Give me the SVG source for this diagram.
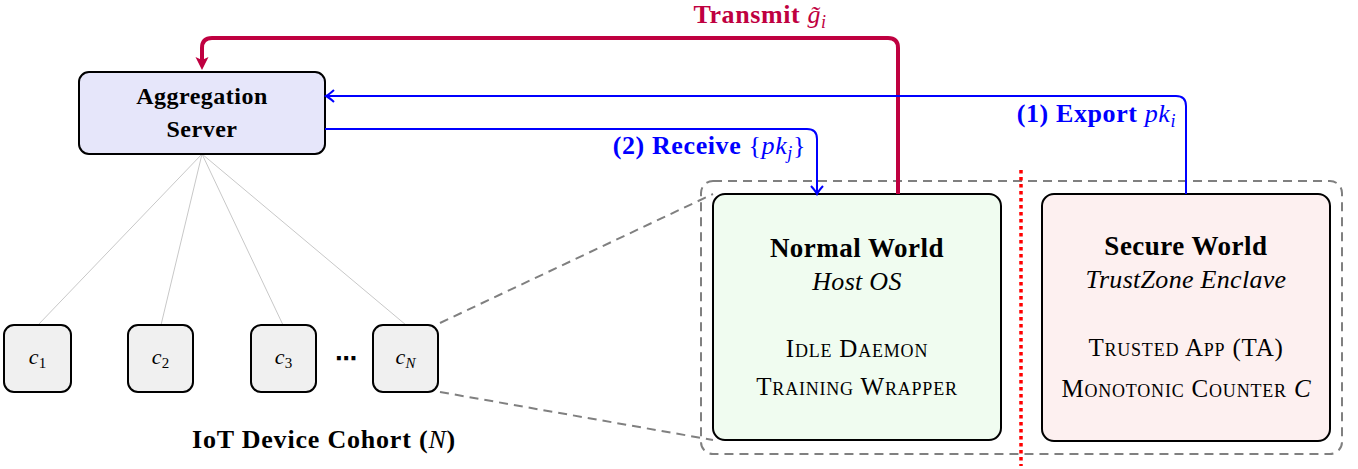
<svg xmlns="http://www.w3.org/2000/svg" width="1358" height="469" viewBox="0 0 1358 469">
<style>
text{font-family:"Liberation Serif","Times New Roman",serif;fill:#000}
.b{font-weight:bold}
.i{font-style:italic}
.sc{font-variant:small-caps;letter-spacing:0.8px}
.box{stroke:#000;stroke-width:2}
.cl{fill:#f0f0f0;stroke:#000;stroke-width:2}
.tree{stroke:#c8c8c8;stroke-width:1;fill:none}
.proj{stroke:#808080;stroke-width:2;stroke-dasharray:9 6;fill:none}
.blue{stroke:#0000ff;stroke-width:2;fill:none}
.purple{stroke:#bf0040;stroke-width:4;fill:none}
.title{font-weight:bold;font-size:27px;letter-spacing:0.5px}
.lbl{font-size:26px;letter-spacing:0.6px}
</style>
<defs>
<marker id="ap" markerUnits="userSpaceOnUse" orient="auto" refX="0" refY="0" viewBox="-8 -8 16 16" markerWidth="16" markerHeight="16" overflow="visible">
<path d="M7,0 L-6,-6.5 L-3,0 L-6,6.5 Z" fill="#bf0040"/>
</marker>
<marker id="ab" markerUnits="userSpaceOnUse" orient="auto" refX="0" refY="0" viewBox="-10 -8 14 16" markerWidth="14" markerHeight="16" overflow="visible">
<path d="M-7,-6 Q-2,-1.5 1,0 Q-2,1.5 -7,6" fill="none" stroke="#0000ff" stroke-width="2"/>
</marker>
</defs>

<g id="tree-lines">
<line class="tree" x1="202" y1="154" x2="38" y2="325"/>
<line class="tree" x1="202" y1="154" x2="161" y2="325"/>
<line class="tree" x1="202" y1="154" x2="283" y2="325"/>
<line class="tree" x1="202" y1="154" x2="406" y2="325"/>
<line class="proj" x1="440" y1="323" x2="713" y2="194"/>
<line class="proj" x1="440" y1="392" x2="713" y2="440"/>
</g>

<g id="device-frame">
<rect x="701" y="181" width="641" height="273" rx="12" class="proj"/>
<line x1="1021" y1="170" x2="1021" y2="466" stroke="#ff0000" stroke-width="3.5" stroke-dasharray="3.5 3.5"/>
</g>

<g id="server">
<rect x="79" y="72" width="246" height="82" rx="10" fill="#e6e6fa" class="box"/>
<text x="202" y="104" text-anchor="middle" class="b" font-size="24" letter-spacing="0.5">Aggregation</text>
<text x="202" y="137" text-anchor="middle" class="b" font-size="24" letter-spacing="0.5">Server</text>
</g>

<g id="client-1">
<rect x="4" y="325" width="67" height="67" rx="10" class="cl"/>
<text x="37.5" y="364" text-anchor="middle" font-size="22"><tspan class="i">c</tspan><tspan font-size="15" dy="4">1</tspan></text>
</g>
<g id="client-2">
<rect x="128" y="325" width="65" height="67" rx="10" class="cl"/>
<text x="160.5" y="364" text-anchor="middle" font-size="22"><tspan class="i">c</tspan><tspan font-size="15" dy="4">2</tspan></text>
</g>
<g id="client-3">
<rect x="251" y="325" width="65" height="67" rx="10" class="cl"/>
<text x="283.5" y="364" text-anchor="middle" font-size="22"><tspan class="i">c</tspan><tspan font-size="15" dy="4">3</tspan></text>
</g>
<g id="client-dots">
<text x="346" y="366" text-anchor="middle" class="b" font-size="22" style="font-family:'DejaVu Sans',sans-serif">⋯</text>
</g>
<g id="client-N">
<rect x="373" y="325" width="65" height="67" rx="10" class="cl"/>
<text x="405.5" y="364" text-anchor="middle" font-size="22"><tspan class="i">c</tspan><tspan class="i" font-size="15" dy="4">N</tspan></text>
</g>
<g id="cohort-label">
<text x="324" y="448" text-anchor="middle" class="b" font-size="26" letter-spacing="0.8">IoT Device Cohort (<tspan class="i" font-weight="normal">N</tspan>)</text>
</g>

<g id="normal-world">
<rect x="713" y="194" width="288" height="246" rx="12" fill="#f0fcf0" class="box"/>
<text x="857" y="257" text-anchor="middle" class="title">Normal World</text>
<text x="857" y="290" text-anchor="middle" class="i" font-size="26" letter-spacing="0.3">Host OS</text>
<text x="857" y="357" text-anchor="middle" class="sc" font-size="25">Idle Daemon</text>
<text x="857" y="395" text-anchor="middle" class="sc" font-size="25">Training Wrapper</text>
</g>

<g id="secure-world">
<rect x="1042" y="194" width="288" height="247" rx="12" fill="#fdf0f0" class="box"/>
<text x="1186" y="255" text-anchor="middle" class="title">Secure World</text>
<text x="1186" y="288" text-anchor="middle" class="i" font-size="26" letter-spacing="0.3">TrustZone Enclave</text>
<text x="1186" y="356" text-anchor="middle" class="sc" font-size="25">Trusted App (TA)</text>
<text x="1186" y="397" text-anchor="middle" font-size="25"><tspan class="sc">Monotonic Counter </tspan><tspan class="i">C</tspan></text>
</g>

<g id="connectors">
<path class="purple" d="M898,194 V48 Q898,38 888,38 H212 Q202,38 202,48 V63" marker-end="url(#ap)"/>
<path class="blue" d="M1186,194 V106 Q1186,96 1176,96 H327" marker-end="url(#ab)"/>
<path class="blue" d="M325,129 H807 Q817,129 817,139 V193" marker-end="url(#ab)"/>
<text x="760" y="23" text-anchor="middle" class="lbl" font-size="27" style="fill:#bf0040"><tspan class="b">Transmit </tspan><tspan class="i">g̃</tspan><tspan class="i" font-size="18" dy="5">i</tspan></text>
<text x="1176" y="122" text-anchor="end" class="lbl" style="fill:#0000ff"><tspan class="b">(1) Export </tspan><tspan class="i">pk</tspan><tspan class="i" font-size="18" dy="5">i</tspan></text>
<text x="806" y="154" text-anchor="end" class="lbl" style="fill:#0000ff"><tspan class="b">(2) Receive </tspan><tspan>{</tspan><tspan class="i">pk</tspan><tspan class="i" font-size="18" dy="5">j</tspan><tspan dy="-5">}</tspan></text>
</g>
</svg>
